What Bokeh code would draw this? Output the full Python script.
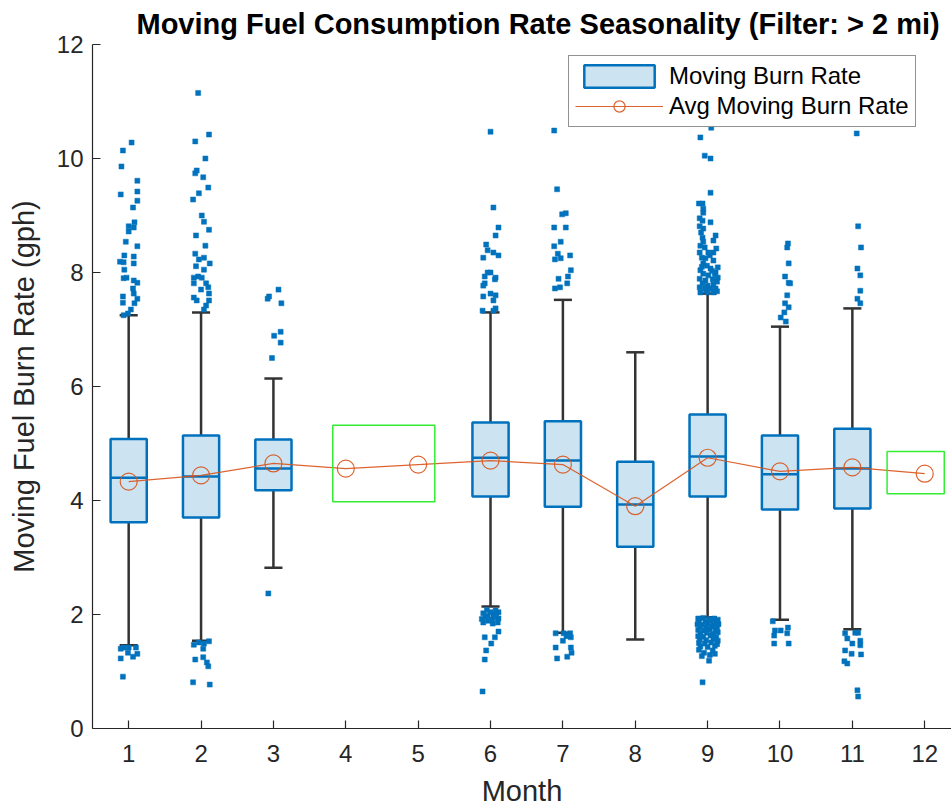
from bokeh.plotting import figure
from bokeh.models import Legend, LegendItem, FixedTicker, Range1d
from bokeh.embed import file_html
from bokeh.resources import INLINE

# ---------------- data ----------------
months = [1, 2, 3, 4, 5, 6, 7, 8, 9, 10, 11, 12]
avg_rate = [4.33, 4.44, 4.65, 4.56, 4.63, 4.70, 4.63, 3.90, 4.75, 4.51, 4.58, 4.47]

box_months = [1, 2, 3, 6, 7, 8, 9, 10, 11]
q1 = [3.62, 3.70, 4.18, 4.07, 3.89, 3.19, 4.07, 3.84, 3.86]
median = [4.40, 4.42, 4.56, 4.75, 4.70, 3.93, 4.77, 4.46, 4.56]
q3 = [5.08, 5.14, 5.07, 5.37, 5.39, 4.68, 5.51, 5.14, 5.26]
whisk_lo = [1.46, 1.54, 2.82, 2.14, 1.68, 1.56, 1.95, 1.91, 1.74]
whisk_hi = [7.25, 7.30, 6.14, 7.30, 7.52, 6.60, 7.63, 7.05, 7.37]

# outliers per month: (jitter offset, value)
out1_dx = [0.04, -0.08, -0.10, 0.12, 0.12, -0.11, 0.12, 0.06, 0.08, 0.0, 0.07, 0.0, -0.04, 0.12, -0.06, 0.07, -0.12,
           -0.07, 0.07, -0.06, -0.07, -0.03, 0.07, 0.12, 0.06, 0.07, -0.08, 0.12, -0.08, 0.08, 0.03, -0.01, -0.07,
           -0.11, -0.07, 0.0, 0.10, -0.11, 0.06, 0.12, -0.01, -0.08]
out1_val = [10.28, 10.14, 9.86, 9.61, 9.42, 9.37, 9.26, 9.14, 8.88, 8.81, 8.79, 8.72, 8.54, 8.46, 8.30, 8.28, 8.19,
            8.18, 8.16, 8.05, 7.90, 7.91, 7.86, 7.82, 7.72, 7.63, 7.58, 7.54, 7.47, 7.46, 7.35, 7.28, 7.25,
            1.40, 1.42, 1.42, 1.42, 1.23, 1.26, 1.31, 1.33, 0.91]

out2_dx = [-0.04, 0.11, -0.08, 0.06, -0.08, -0.06, 0.03, 0.10, -0.03, -0.11, 0.01, 0.04, 0.11, -0.07, 0.06, -0.08,
           0.04, -0.03, 0.12, -0.07, 0.04, -0.10, -0.04, 0.01, 0.07, -0.10, 0.10, 0.0, 0.11, -0.10, 0.11, -0.06,
           0.07, 0.04,
           -0.10, -0.03, 0.04, 0.11, 0.03, -0.08, 0.03, 0.08, 0.10, -0.11, 0.12]
out2_val = [11.15, 10.42, 10.30, 10.0, 9.74, 9.79, 9.67, 9.49, 9.39, 9.28, 9.0, 8.89, 8.75, 8.65, 8.47, 8.33,
            8.26, 8.23, 8.16, 8.11, 8.05, 7.91, 7.93, 7.91, 7.81, 7.81, 7.74, 7.70, 7.63, 7.56, 7.51, 7.51,
            7.42, 7.35,
            1.47, 1.51, 1.49, 1.53, 1.40, 1.21, 1.25, 1.16, 1.09, 0.81, 0.77]

out3_dx = [-0.08, -0.06, 0.07, 0.11, 0.10, 0.01, 0.10, -0.02, -0.07]
out3_val = [7.54, 7.58, 7.70, 7.46, 6.96, 6.89, 6.77, 6.50, 2.37]

out6_dx = [0.0, 0.04, 0.11, 0.07, -0.06, -0.04, -0.10, 0.04, 0.11, -0.04, 0.0, -0.08, 0.07, 0.06, -0.10, -0.08,
           -0.10, 0.0, 0.07, 0.04, 0.07, -0.11, 0.04,
           -0.10, -0.04, 0.0, 0.07, 0.11, -0.10, -0.03, 0.03, 0.10, 0.11, 0.04, -0.07, 0.11, -0.08, 0.06, 0.01,
           -0.06, -0.08, -0.11, -0.05, 0.02, 0.08, -0.12, 0.05]
out6_val = [10.47, 9.14, 8.79, 8.65, 8.49, 8.39, 8.26, 8.35, 8.30, 8.0, 8.0, 7.93, 7.91, 7.88, 7.77, 7.81,
            7.58, 7.63, 7.60, 7.51, 7.37, 7.33, 7.33,
            2.02, 1.98, 2.04, 2.07, 2.04, 1.86, 1.89, 1.84, 1.86, 1.93, 1.95, 1.95, 1.70, 1.60, 1.60, 1.49,
            1.37, 1.21, 0.65, 2.08, 1.91, 1.98, 1.92, 2.00]

out7_dx = [-0.12, -0.08, -0.01, 0.04, -0.12, 0.04, -0.03, -0.12, -0.07, -0.03, -0.11, 0.10, 0.11, 0.07, -0.06,
           0.06, -0.04, -0.11,
           -0.10, 0.01, 0.10, 0.0, 0.11, -0.10, 0.11, 0.12, 0.06, -0.08, 0.05, 0.08]
out7_val = [10.49, 9.46, 9.02, 9.04, 8.79, 8.79, 8.54, 8.46, 8.33, 8.25, 8.23, 8.30, 8.04, 7.93, 7.89,
            7.81, 7.74, 7.72,
            1.67, 1.67, 1.67, 1.54, 1.60, 1.42, 1.42, 1.33, 1.26, 1.23, 1.62, 1.64]

out9_dx = [0.05, -0.10, -0.04, 0.04, 0.04, -0.12, -0.07, -0.06, -0.06, -0.11, -0.07, 0.04, -0.11, -0.06, -0.07,
           -0.06, 0.11, 0.08, -0.10, -0.04, -0.11, 0.01, 0.08, -0.08, -0.03, -0.06, 0.08, 0.14, 0.04, -0.10,
           0.11, -0.06, 0.01, -0.11, -0.03, 0.07, 0.14, -0.07, 0.0, 0.08, -0.11, -0.04, 0.04, 0.11, -0.10, 0.0,
           0.08, 0.13, -0.01, 0.12, -0.09, 0.06, -0.02, 0.13, -0.08, 0.03, 0.10,
           -0.13, -0.06, 0.02, 0.09, 0.14, -0.12, -0.03, 0.05, 0.12, -0.14, -0.08, 0.0, 0.08, 0.15, -0.11, -0.02,
           0.06, 0.13, -0.13, -0.05, 0.03, 0.11, -0.10, -0.01, 0.07, 0.14, -0.13, -0.06, 0.04, 0.12, -0.11,
           -0.02, 0.08, 0.14, -0.12, -0.04, 0.05, 0.13, -0.10, 0.0, 0.10, -0.12, 0.07, -0.05, 0.10, -0.08, 0.03,
           0.02, -0.07]
out9_val = [10.54, 10.37, 10.05, 10.0, 9.40, 9.21, 9.21, 9.12, 9.05, 8.95, 8.91, 8.88, 8.81, 8.77, 8.61,
            8.54, 8.65, 8.56, 8.47, 8.44, 8.35, 8.35, 8.35, 8.26, 8.25, 8.16, 8.21, 8.09, 8.07, 8.04,
            8.0, 7.98, 7.95, 7.89, 7.86, 7.88, 7.91, 7.81, 7.77, 7.79, 7.74, 7.72, 7.72, 7.72, 7.65, 7.65,
            7.65, 7.84, 8.12, 8.42, 8.70, 8.03, 7.69, 7.67, 8.10, 8.30, 7.97,
            1.93, 1.94, 1.92, 1.93, 1.91, 1.88, 1.87, 1.89, 1.86, 1.83, 1.82, 1.84, 1.81, 1.83, 1.78, 1.77,
            1.79, 1.76, 1.73, 1.72, 1.74, 1.71, 1.67, 1.68, 1.66, 1.69, 1.62, 1.61, 1.63, 1.60, 1.56,
            1.55, 1.57, 1.54, 1.50, 1.49, 1.51, 1.48, 1.44, 1.43, 1.45, 1.38, 1.37, 1.33, 1.31, 1.27, 1.29,
            1.19, 0.81]

out10_dx = [0.11, 0.10, 0.12, 0.07, 0.12, 0.14, 0.10, 0.07, 0.12, 0.06, 0.01, 0.08,
            -0.10, -0.07, -0.08, -0.08, 0.11, 0.12, 0.01, 0.10]
out10_val = [8.51, 8.44, 8.16, 7.93, 7.82, 7.81, 7.60, 7.46, 7.39, 7.30, 7.21, 7.14,
             1.88, 1.72, 1.63, 1.49, 1.77, 1.49, 1.72, 1.67]

out11_dx = [0.06, 0.08, 0.12, 0.07, 0.11, 0.11, 0.07, 0.11,
            -0.10, -0.07, 0.0, 0.08, 0.11, -0.10, -0.01, 0.12, -0.11, -0.07, 0.07, 0.08, 0.04, 0.11]
out11_val = [10.44, 8.81, 8.44, 8.07, 7.95, 7.68, 7.54, 7.46,
             1.67, 1.58, 1.49, 1.68, 1.46, 1.37, 1.31, 1.30, 1.18, 1.14, 0.67, 0.56, 1.68, 1.54]

# highlighted (green) regions: months 4-5 and month 12
hl_left = [3.82, 11.48]
hl_right = [5.23, 12.27]
hl_bottom = [3.98, 4.12]
hl_top = [5.32, 4.86]

y_ticks = [0, 2, 4, 6, 8, 10, 12]

# ---------------- styling ----------------
BLUE = "#0072BD"
ORANGE = "#D95319"
DARK = "#262626"
FONT = "Liberation Sans"
BOX_W = 0.5
CAP_W = 0.25

p = figure(width=951, height=809, output_backend="svg", toolbar_location=None,
           x_range=Range1d(0.5, 12.37), y_range=Range1d(0, 12),
           min_border_left=92, min_border_right=0, min_border_top=44, min_border_bottom=81,
           background_fill_color="white", border_fill_color="white")
p.outline_line_color = None
p.grid.visible = False

p.title.text = "Moving Fuel Consumption Rate Seasonality (Filter: > 2 mi)"
p.title.text_font = FONT
p.title.text_font_size = "29px"
p.title.text_font_style = "bold"
p.title.text_color = "#000000"
p.title.align = "left"
p.title.offset = 44
p.title.standoff = 10

for ax in (p.xaxis[0], p.yaxis[0]):
    ax.axis_line_color = DARK
    ax.axis_line_width = 1.2
    ax.major_tick_line_color = DARK
    ax.major_tick_line_width = 1.2
    ax.major_tick_in = 8
    ax.major_tick_out = 0
    ax.minor_tick_line_color = None
    ax.major_label_text_font = FONT
    ax.major_label_text_font_size = "24px"
    ax.major_label_text_color = DARK
    ax.axis_label_text_font = FONT
    ax.axis_label_text_font_size = "29px"
    ax.axis_label_text_font_style = "normal"
    ax.axis_label_text_color = DARK

p.xaxis.ticker = FixedTicker(ticks=months)
p.yaxis.ticker = FixedTicker(ticks=y_ticks)
p.xaxis.axis_label = "Month"
p.yaxis.axis_label = "Moving Fuel Burn Rate (gph)"
p.xaxis.major_label_standoff = 16
p.yaxis.major_label_standoff = 9
p.xaxis.axis_label_standoff = 10
p.yaxis.axis_label_standoff = 14

# whiskers
p.segment(x0=box_months, x1=box_months, y0=q3, y1=whisk_hi, line_color="#333333", line_width=2.5)
p.segment(x0=box_months, x1=box_months, y0=q1, y1=whisk_lo, line_color="#333333", line_width=2.5)
p.segment(x0=[m - CAP_W / 2 for m in box_months], x1=[m + CAP_W / 2 for m in box_months],
          y0=whisk_hi, y1=whisk_hi, line_color="#333333", line_width=2.5)
p.segment(x0=[m - CAP_W / 2 for m in box_months], x1=[m + CAP_W / 2 for m in box_months],
          y0=whisk_lo, y1=whisk_lo, line_color="#333333", line_width=2.5)

# boxes
box_r = p.vbar(x=box_months, width=BOX_W, bottom=q1, top=q3, fill_color=BLUE, fill_alpha=0.2,
               line_color=BLUE, line_width=2.5)
p.segment(x0=[m - BOX_W / 2 for m in box_months], x1=[m + BOX_W / 2 for m in box_months],
          y0=median, y1=median, line_color=BLUE, line_width=2.5)

# outliers
groups = [(1, out1_dx, out1_val), (2, out2_dx, out2_val), (3, out3_dx, out3_val),
          (6, out6_dx, out6_val), (7, out7_dx, out7_val), (9, out9_dx, out9_val),
          (10, out10_dx, out10_val), (11, out11_dx, out11_val)]
ox, oy = [], []
for m, dxs, vals in groups:
    ox += [m + d for d in dxs]
    oy += vals
p.scatter(x=ox, y=oy, marker="square", size=5, fill_color=BLUE, line_color=BLUE, line_width=0.5)

# mean line
line_r = p.line(x=months, y=avg_rate, line_color=ORANGE, line_width=1.2, line_alpha=0.9)
circ_r = p.scatter(x=months, y=avg_rate, marker="circle", size=17, fill_color=None,
                   line_color=ORANGE, line_width=1.2, line_alpha=0.9)

# highlight rectangles
p.quad(left=hl_left, right=hl_right, bottom=hl_bottom, top=hl_top, fill_color=None,
       line_color="#33EE33", line_width=1.5)

legend = Legend(items=[LegendItem(label="Moving Burn Rate", renderers=[box_r]),
                       LegendItem(label="Avg Moving Burn Rate", renderers=[line_r, circ_r])],
                location=(476, 601))
legend.label_text_font = FONT
legend.label_text_font_size = "24px"
legend.label_text_color = "#000000"
legend.border_line_color = DARK
legend.border_line_width = 1
legend.padding = 6
legend.spacing = 2
legend.margin = 0
legend.glyph_width = 88
legend.glyph_height = 28
legend.label_height = 28
legend.label_standoff = 6
legend.background_fill_alpha = 1
p.add_layout(legend)

open("out.html", "w").write(file_html(p, INLINE))
